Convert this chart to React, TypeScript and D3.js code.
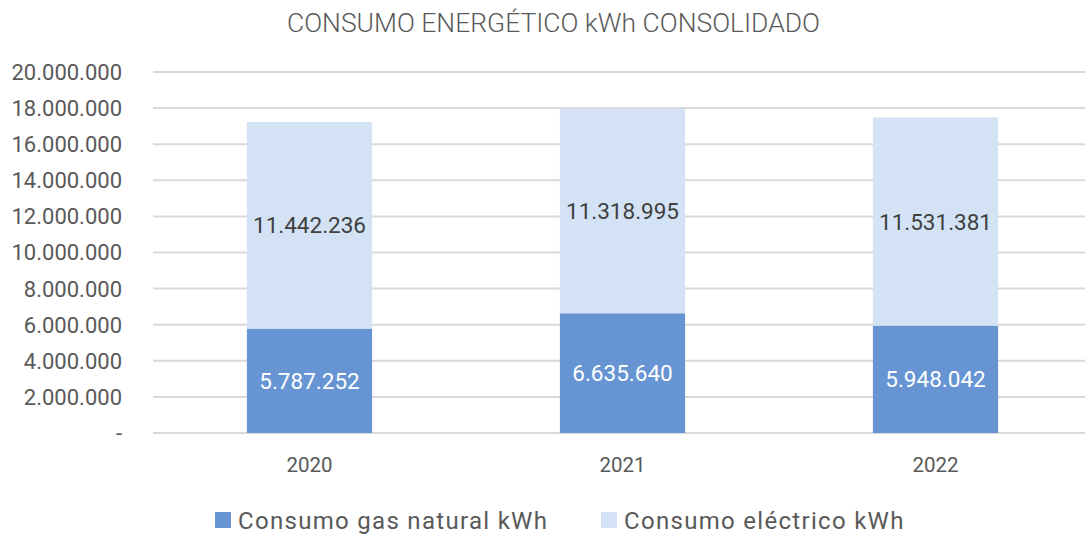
import React from "react";
import * as d3 from "d3";

const years = ["2020", "2021", "2022"];
const gasValues = [5787252, 6635640, 5948042];
const elecValues = [11442236, 11318995, 11531381];
const yTicks = [0, 2000000, 4000000, 6000000, 8000000, 10000000, 12000000, 14000000, 16000000, 18000000, 20000000];
const seriesNames = ["Consumo gas natural kWh", "Consumo eléctrico kWh"];

const W = 1086;
const H = 539;
const FONT = "Roboto, 'DejaVu Sans', sans-serif";
const GAS = "#6795d3";
const ELEC = "#d3e3f5";
const TXT = "#595959";

const fmt = (v: number) =>
  v === 0 ? "-" : d3.format(",")(v).replace(/,/g, ".");

export default function App() {
  const margin = { top: 72, right: 1, bottom: 106, left: 153 };
  // band range runs a bit past the svg edge so the centres line up with the original
  const x = d3
    .scaleBand<string>()
    .domain(years)
    .range([margin.left, 1092])
    .paddingInner(0.6)
    .paddingOuter(0.3);
  const y = d3
    .scaleLinear()
    .domain([0, 20000000])
    .range([H - margin.bottom, margin.top]);

  const stacked = years.map((yr, i) => ({
    yr,
    gas: gasValues[i],
    elec: elecValues[i],
  }));

  return (
    <svg width={W} height={H} style={{ position: "absolute", left: 0, top: 0, background: "#fff" }}>
      <text
        x={553.5}
        y={32}
        textAnchor="middle"
        fontFamily={FONT}
        fontSize={25}
        fontWeight={300}
        fill={TXT}
        textLength={533}
        lengthAdjust="spacingAndGlyphs"
      >
        CONSUMO ENERGÉTICO kWh CONSOLIDADO
      </text>

      {yTicks.map((t) => (
        <g key={t}>
          <line
            x1={margin.left}
            x2={W - margin.right}
            y1={y(t)}
            y2={y(t)}
            stroke="#d9d9d9"
            strokeWidth={2}
          />
          <text
            x={122}
            y={y(t)}
            dy="0.36em"
            textAnchor="end"
            fontFamily={FONT}
            fontSize={22}
            fill={TXT}
          >
            {fmt(t)}
          </text>
        </g>
      ))}

      {stacked.map((d) => {
        const bx = x(d.yr) as number;
        const bw = x.bandwidth();
        const y0 = y(0);
        const yGas = y(d.gas);
        const yTot = y(d.gas + d.elec);
        return (
          <g key={d.yr}>
            <rect x={bx} y={yGas} width={bw} height={y0 - yGas} fill={GAS} />
            <rect x={bx} y={yTot} width={bw} height={yGas - yTot} fill={ELEC} />
            <text
              x={bx + bw / 2}
              y={(y0 + yGas) / 2}
              dy="0.36em"
              textAnchor="middle"
              fontFamily={FONT}
              fontSize={22.5}
              fill="#ffffff"
            >
              {fmt(d.gas)}
            </text>
            <text
              x={bx + bw / 2}
              y={(yGas + yTot) / 2}
              dy="0.36em"
              textAnchor="middle"
              fontFamily={FONT}
              fontSize={22.5}
              fill="#404040"
            >
              {fmt(d.elec)}
            </text>
            <text
              x={bx + bw / 2}
              y={465}
              dy="0.36em"
              textAnchor="middle"
              fontFamily={FONT}
              fontSize={20.5}
              fill={TXT}
            >
              {d.yr}
            </text>
          </g>
        );
      })}

      {seriesNames.map((name, i) => {
        const lx = i === 0 ? 215 : 601;
        return (
          <g key={name}>
            <rect x={lx} y={512} width={16} height={16} fill={i === 0 ? GAS : ELEC} />
            <text
              x={lx + 23}
              y={520}
              dy="0.36em"
              fontFamily={FONT}
              fontSize={24}
              letterSpacing={1.3}
              fill={TXT}
            >
              {name}
            </text>
          </g>
        );
      })}
    </svg>
  );
}
